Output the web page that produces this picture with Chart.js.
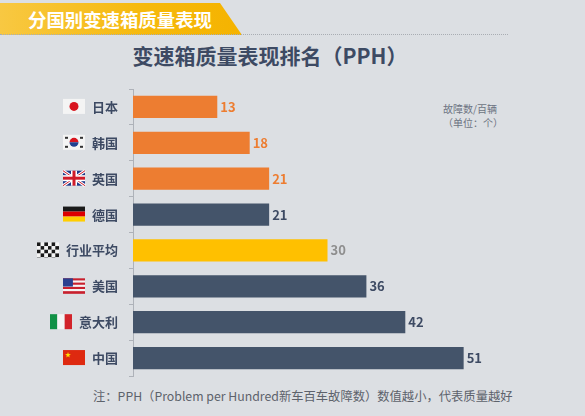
<!DOCTYPE html>
<html>
<head>
<meta charset="utf-8">
<script src="https://cdn.jsdelivr.net/npm/chart.js@4/dist/chart.umd.min.js"></script>
<style>
  html, body { margin: 0; padding: 0; }
  body { width: 585px; height: 416px; background: #dcdfe3; position: relative; overflow: hidden;
         font-family: "Noto Sans CJK SC", "Noto Sans", sans-serif; }
  #banner { position: absolute; left: 0; top: 3px; width: 242px; height: 32px;
            background: linear-gradient(90deg, #f8c842 0%, #f6b90c 60%, #f5b300 100%);
            clip-path: polygon(0 0, 220px 0, 242px 100%, 0 100%); }
  #banner span { position: absolute; left: 28px; top: 4px; color: #fff; font-weight: bold; font-size: 18.4px;
                 line-height: 24px; }
  #dots { position: absolute; left: 0; top: 34px; width: 508px; border-bottom: 1px dotted #a9adb3; }
  #title { position: absolute; left: 0; width: 540px; top: 40px; text-align: center; font-weight: bold;
           font-size: 21px; line-height: 30px; color: #3d4a63; }
  #unit { position: absolute; left: 443px; top: 102px; font-size: 10px; line-height: 14px; color: #6d7482; }
  #note { position: absolute; left: 93px; top: 386px; font-size: 12.3px; line-height: 20px; color: #5d626b; }
  #wrap { position: absolute; left: 0; top: 0; width: 585px; height: 416px; }
</style>
</head>
<body>
<div id="banner"><span>分国别变速箱质量表现</span></div>
<div id="dots"></div>
<div id="title">变速箱质量表现排名（PPH）</div>
<div id="unit">故障数/百辆<br>（单位：个）</div>
<div id="note">注：PPH（Problem per Hundred新车百车故障数）数值越小，代表质量越好</div>
<div id="wrap"><canvas id="chart" width="585" height="416"></canvas></div>
<script>
// data
let categories = ["日本", "韩国", "英国", "德国", "行业平均", "美国", "意大利", "中国"];
let pphValues = [13, 18, 21, 21, 30, 36, 42, 51];
let flagNames = ["jp", "kr", "uk", "de", "avg", "us", "it", "cn"];

// styles
let barColors = ["#ed7d31", "#ed7d31", "#ed7d31", "#44546a", "#ffc000", "#44546a", "#44546a", "#44546a"];
let labelColors = ["#ed7d31", "#ed7d31", "#ed7d31", "#3d4a63", "#8e8e8e", "#3d4a63", "#3d4a63", "#3d4a63"];

function drawFlag(ctx, name, x, y, w, h) {
    ctx.save();
    if (name === "jp") {
        ctx.fillStyle = "#f4f4f4"; ctx.fillRect(x, y, w, h);
        ctx.fillStyle = "#d8141e"; ctx.beginPath(); ctx.arc(x + w / 2, y + h / 2, h * 0.3, 0, Math.PI * 2); ctx.fill();
    } else if (name === "kr") {
        ctx.fillStyle = "#f4f4f4"; ctx.fillRect(x, y, w, h);
        ctx.fillStyle = "#d8141e"; ctx.beginPath(); ctx.arc(x + w / 2, y + h / 2, h * 0.3, Math.PI, 0); ctx.fill();
        ctx.fillStyle = "#1f3f8f"; ctx.beginPath(); ctx.arc(x + w / 2, y + h / 2, h * 0.3, 0, Math.PI); ctx.fill();
        ctx.fillStyle = "#333";
        ctx.fillRect(x + 2, y + 2, 3, 2); ctx.fillRect(x + w - 5, y + 2, 3, 2);
        ctx.fillRect(x + 2, y + h - 4, 3, 2); ctx.fillRect(x + w - 5, y + h - 4, 3, 2);
    } else if (name === "uk") {
        ctx.fillStyle = "#1f3a8a"; ctx.fillRect(x, y, w, h);
        ctx.strokeStyle = "#fff"; ctx.lineWidth = 3;
        ctx.beginPath(); ctx.moveTo(x, y); ctx.lineTo(x + w, y + h); ctx.moveTo(x + w, y); ctx.lineTo(x, y + h); ctx.stroke();
        ctx.strokeStyle = "#d01c2a"; ctx.lineWidth = 1;
        ctx.stroke();
        ctx.fillStyle = "#fff"; ctx.fillRect(x + w / 2 - 3, y, 6, h); ctx.fillRect(x, y + h / 2 - 3, w, 6);
        ctx.fillStyle = "#d01c2a"; ctx.fillRect(x + w / 2 - 1.5, y, 3, h); ctx.fillRect(x, y + h / 2 - 1.5, w, 3);
    } else if (name === "de") {
        ctx.fillStyle = "#1a1a1a"; ctx.fillRect(x, y, w, h / 3);
        ctx.fillStyle = "#dd0000"; ctx.fillRect(x, y + h / 3, w, h / 3);
        ctx.fillStyle = "#ffce00"; ctx.fillRect(x, y + 2 * h / 3, w, h / 3);
    } else if (name === "avg") {
        let s = w / 6;
        for (let i = 0; i < 6; i++) {
            for (let j = 0; j < Math.ceil(h / s); j++) {
                ctx.fillStyle = (i + j) % 2 === 0 ? "#1a1a1a" : "#f4f4f4";
                ctx.fillRect(x + i * s, y + j * s, s, Math.min(s, h - j * s));
            }
        }
    } else if (name === "us") {
        for (let i = 0; i < 7; i++) {
            ctx.fillStyle = i % 2 === 0 ? "#c8202e" : "#f4f4f4";
            ctx.fillRect(x, y + i * h / 7, w, h / 7 + 0.5);
        }
        ctx.fillStyle = "#2a3f8f"; ctx.fillRect(x, y, w * 0.45, h * 0.55);
    } else if (name === "it") {
        ctx.fillStyle = "#119146"; ctx.fillRect(x, y, w / 3, h);
        ctx.fillStyle = "#f4f4f4"; ctx.fillRect(x + w / 3, y, w / 3, h);
        ctx.fillStyle = "#d2232a"; ctx.fillRect(x + 2 * w / 3, y, w / 3, h);
    } else if (name === "cn") {
        ctx.fillStyle = "#de2910"; ctx.fillRect(x, y, w, h);
        ctx.fillStyle = "#ffde00";
        ctx.beginPath();
        let cx = x + 5, cy = y + 5, r = 3;
        for (let k = 0; k < 10; k++) {
            let a = -Math.PI / 2 + k * Math.PI / 5;
            let rr = k % 2 === 0 ? r : r * 0.4;
            ctx.lineTo(cx + rr * Math.cos(a), cy + rr * Math.sin(a));
        }
        ctx.closePath(); ctx.fill();
    }
    ctx.restore();
}

const extrasPlugin = {
    id: "extras",
    afterDatasetsDraw(chart) {
        let ctx = chart.ctx;
        let meta = chart.getDatasetMeta(0);
        let yScale = chart.scales.y;
        ctx.save();
        ctx.font = "bold 13px 'Noto Sans CJK SC', 'Noto Sans', sans-serif";
        ctx.textBaseline = "middle";
        meta.data.forEach((bar, i) => {
            ctx.fillStyle = labelColors[i];
            ctx.textAlign = "left";
            ctx.fillText(pphValues[i], bar.x + 3, bar.y);
        });
        // flags left of category labels
        categories.forEach((name, i) => {
            let yc = yScale.getPixelForValue(i);
            let labelW = ctx.measureText(name).width;
            let right = 118 - labelW - 7;
            drawFlag(ctx, flagNames[i], right - 22, yc - 8, 22, 15);
        });
        ctx.restore();
    }
};

let chart = new Chart(document.getElementById("chart"), {
    type: "bar",
    data: {
        labels: categories,
        datasets: [{
            data: pphValues,
            backgroundColor: barColors,
            borderWidth: 0,
            barPercentage: 0.62,
            categoryPercentage: 1.0
        }]
    },
    options: {
        indexAxis: "y",
        responsive: false,
        animation: false,
        layout: { padding: { top: 89, bottom: 40, right: 63, left: 0 } },
        plugins: { legend: { display: false }, tooltip: { enabled: false } },
        scales: {
            x: { display: false, min: 0, max: 60 },
            y: {
                afterFit: function (scale) { scale.width = 133; },
                grid: { display: true, drawOnChartArea: false, drawTicks: true, tickLength: 4, color: "#aeb2b9" },
                border: { display: true, color: "#aeb2b9" },
                ticks: {
                    padding: 11,
                    color: "#3d4a63",
                    font: { family: "'Noto Sans CJK SC', 'Noto Sans', sans-serif", size: 13, weight: "bold" }
                }
            }
        }
    },
    plugins: [extrasPlugin]
});
</script>
</body>
</html>
